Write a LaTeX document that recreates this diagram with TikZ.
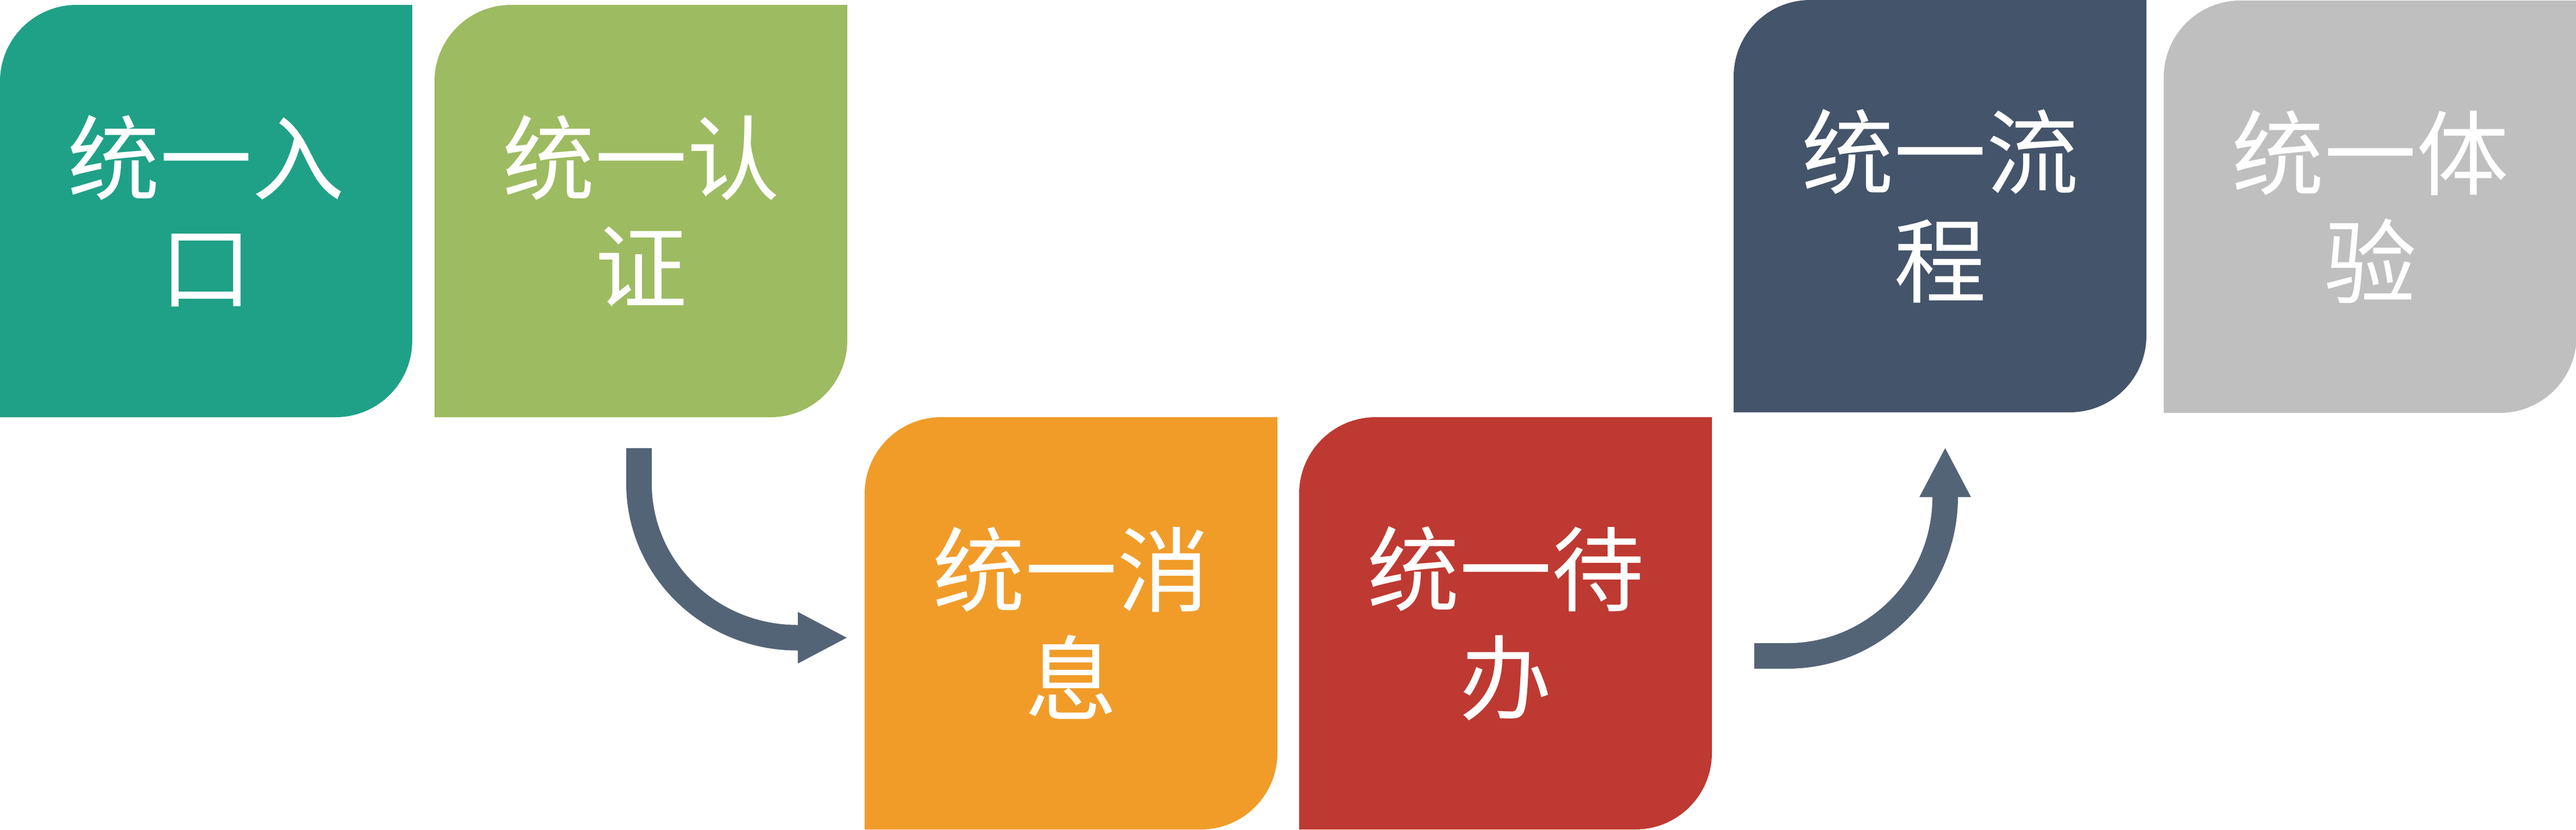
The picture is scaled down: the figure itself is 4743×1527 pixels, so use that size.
\documentclass[tikz,border=0pt]{standalone}
\usepackage{fontspec}
\newfontfamily\cjk{Noto Sans CJK SC}
\usetikzlibrary{arrows.meta}

\definecolor{boxgreen}{RGB}{31,161,135}
\definecolor{boxolive}{RGB}{157,187,97}
\definecolor{boxorange}{RGB}{241,156,41}
\definecolor{boxred}{RGB}{190,57,49}
\definecolor{boxslate}{RGB}{68,84,106}
\definecolor{boxgray}{RGB}{191,191,191}
\definecolor{arrowslate}{RGB}{84,100,119}

\tikzset{every picture/.style={line width=0.75pt}}
\tikzset{
  boxtext/.style={text=white, align=center, inner sep=0pt, font=\cjk\fontsize{17}{20}\selectfont},
  flowarrow/.style={draw=arrowslate, line width=4.7pt, -{Triangle[length=9pt,width=9.5pt,line width=0pt]}}
}

\begin{document}
\begin{tikzpicture}[x=0.1pt,y=0.1pt,yscale=-1,xscale=1]
        \useasboundingbox (0,0) rectangle (4743,1527);

        %Shape: Rounded Rect, entry
        \fill[boxgreen] (0,768) -- (0,150) arc[start angle=180,end angle=270,radius=141] -- (759,9) -- (759,627) arc[start angle=0,end angle=90,radius=141] -- cycle;
        %Shape: Rounded Rect, auth
        \fill[boxolive] (800,768) -- (800,150) arc[start angle=180,end angle=270,radius=141] -- (1560,9) -- (1560,627) arc[start angle=0,end angle=90,radius=141] -- cycle;
        %Shape: Rounded Rect, msg
        \fill[boxorange] (1592,1527) -- (1592,909) arc[start angle=180,end angle=270,radius=141] -- (2352,768) -- (2352,1386) arc[start angle=0,end angle=90,radius=141] -- cycle;
        %Shape: Rounded Rect, todo
        \fill[boxred] (2392,1527) -- (2392,909) arc[start angle=180,end angle=270,radius=141] -- (3152,768) -- (3152,1386) arc[start angle=0,end angle=90,radius=141] -- cycle;
        %Shape: Rounded Rect, flow
        \fill[boxslate] (3192,759) -- (3192,141) arc[start angle=180,end angle=270,radius=141] -- (3952,0) -- (3952,618) arc[start angle=0,end angle=90,radius=141] -- cycle;
        %Shape: Rounded Rect, exper
        \fill[boxgray] (3984,760) -- (3984,142) arc[start angle=180,end angle=270,radius=141] -- (4744,1) -- (4744,619) arc[start angle=0,end angle=90,radius=141] -- cycle;

        % Text Node
        \node[boxtext] (entry) at (379.5,388.5) {统一入\\口};
        % Text Node
        \node[boxtext] (auth) at (1180,388.5) {统一认\\证};
        % Text Node
        \node[boxtext] (msg) at (1972,1147.5) {统一消\\息};
        % Text Node
        \node[boxtext] (todo) at (2772,1147.5) {统一待\\办};
        % Text Node
        \node[boxtext] (flow) at (3572,379.5) {统一流\\程};
        % Text Node
        \node[boxtext] (exper) at (4364,380.5) {统一体\\验};

        %Curve Lines
        \coordinate (authout) at (1176.5,825);
        \coordinate (msgin) at (1559,1174);
        \draw[flowarrow] (authout) -- ++(0,65) arc[start angle=180,end angle=90,x radius=291.5,y radius=284] -- (msgin);
        %Curve Lines
        \coordinate (todoout) at (3230,1207.5);
        \coordinate (flowin) at (3581.5,825);
        \draw[flowarrow] (todoout) -- ++(61,0) arc[start angle=90,end angle=0,x radius=290.5,y radius=292.5] -- (flowin);

\end{tikzpicture}
\end{document}
